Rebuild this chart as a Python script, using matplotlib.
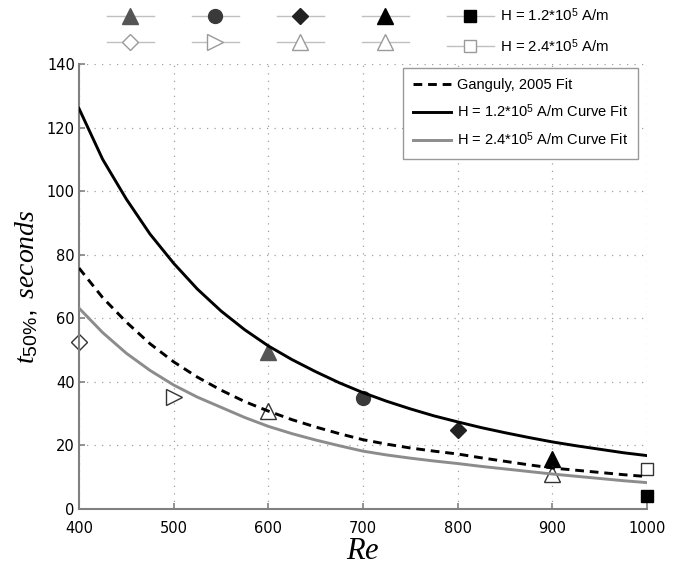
import numpy as np
import matplotlib
matplotlib.use('Agg')
import matplotlib.pyplot as plt
from matplotlib.lines import Line2D

# fonts: sans for ticks/legends, italic serif for axis titles
plt.rcParams['font.family'] = ['DejaVu Sans']
plt.rcParams['mathtext.fontset'] = 'custom'
plt.rcParams['mathtext.rm'] = 'Liberation Sans'
plt.rcParams['mathtext.it'] = 'Liberation Serif:italic'
plt.rcParams['mathtext.bf'] = 'Liberation Sans:bold'

# ---------------- data ----------------
re_fit = [400, 425, 450, 475, 500, 525, 550, 575, 600, 625, 650, 675, 700,
          725, 750, 775, 800, 825, 850, 875, 900, 925, 950, 975, 1000]
ganguly_fit = [75.8, 66.5, 58.8, 52.0, 46.3, 41.5, 37.4, 33.8, 30.8, 28.1, 25.8, 23.7, 21.8,
               20.4, 19.2, 18.2, 17.3, 16.1, 15.0, 13.9, 12.9, 12.2, 11.5, 10.8, 10.2]
fit_h12 = [126.0, 110.0, 97.5, 86.5, 77.3, 69.2, 62.3, 56.4, 51.3, 47.0, 43.2, 39.7, 36.6,
           33.9, 31.5, 29.3, 27.4, 25.6, 24.0, 22.5, 21.1, 19.9, 18.8, 17.7, 16.8]
fit_h24 = [63.2, 55.5, 49.0, 43.6, 39.0, 35.2, 32.0, 28.8, 26.0, 23.7, 21.7, 19.9, 18.2,
           17.0, 16.0, 15.1, 14.3, 13.4, 12.6, 11.8, 11.0, 10.3, 9.6, 8.9, 8.3]

re_h12 = [600, 700, 800, 900, 1000]
t_h12 = [49.5, 34.8, 24.8, 15.6, 4.2]
mk_h12 = ['^', 'o', 'D', '^', 's']
fc_h12 = ['#555555', '#3a3a3a', '#222222', '#000000', '#000000']

re_h24 = [400, 500, 600, 900, 1000]
t_h24 = [52.6, 35.3, 30.8, 10.9, 12.5]
mk_h24 = ['D', '>', '^', '^', 's']

ms_of = {'^': 11, 'o': 10, 'D': 8, 's': 9, '>': 11}

fig = plt.figure(figsize=(6.77, 5.67), dpi=100)
ax = fig.add_axes([0.1167, 0.1023, 0.8390, 0.7848])

# experimental points (under the curves)
for x, y, m, c in zip(re_h12, t_h12, mk_h12, fc_h12):
    ax.plot([x], [y], linestyle='none', marker=m, ms=ms_of[m], mfc=c, mec=c,
            zorder=2, clip_on=False)
for x, y, m in zip(re_h24, t_h24, mk_h24):
    ax.plot([x], [y], linestyle='none', marker=m, ms=ms_of[m], mfc='white',
            mec='#333333', mew=1.0, zorder=2, clip_on=False)

# fit curves
ax.plot(re_fit, ganguly_fit, color='black', lw=2.1, dashes=(3, 2),
        label='Ganguly, 2005 Fit', zorder=3)
ax.plot(re_fit, fit_h12, color='black', lw=2.1,
        label='H = 1.2*10$^{5}$ A/m Curve Fit', zorder=3)
ax.plot(re_fit, fit_h24, color='#8c8c8c', lw=2.1,
        label='H = 2.4*10$^{5}$ A/m Curve Fit', zorder=3)

ax.set_xlim(400, 1000)
ax.set_ylim(0, 140)
ax.set_xticks(np.arange(400, 1001, 100))
ax.set_yticks(np.arange(0, 141, 20))
ax.grid(True, color='#a0a0a0', linestyle=(0, (1, 5)), linewidth=0.9)

for s in ['top', 'right']:
    ax.spines[s].set_visible(False)
for s in ['left', 'bottom']:
    ax.spines[s].set_color('#808080')
    ax.spines[s].set_linewidth(1.5)
ax.tick_params(direction='in', length=4, color='#808080', width=1.2,
               labelsize=10.5, pad=3)
ax.tick_params(axis='x', pad=9)

ax.set_xlabel(r'$\mathit{Re}$', fontsize=22, labelpad=0)
ax.set_ylabel(r'$\mathit{t}_{\mathrm{50\%}}\mathit{,\ seconds}$', fontsize=20, labelpad=5)

leg = ax.legend(loc='upper right', bbox_to_anchor=(0.984, 0.991), borderaxespad=0,
                prop={'family': 'Liberation Sans', 'size': 10.5}, handlelength=2.6,
                handletextpad=0.4, labelspacing=0.7, fancybox=False,
                framealpha=1, edgecolor='#999999', borderpad=0.7)
leg.get_frame().set_linewidth(1.0)

# top legend for the experimental points (column-major order)
handles = []
labels = []
for i in range(5):
    m1 = mk_h12[i]
    handles.append(Line2D([], [], color='#c0c0c0', lw=1.0, marker=m1, ms=ms_of[m1],
                          mfc=fc_h12[i], mec=fc_h12[i]))
    m2 = mk_h24[i]
    handles.append(Line2D([], [], color='#c0c0c0', lw=1.0, marker=m2, ms=ms_of[m2],
                          mfc='white', mec='#9a9a9a', mew=1.0))
    if i < 4:
        labels += ['', '']
    else:
        labels += ['H = 1.2*10$^{5}$ A/m', 'H = 2.4*10$^{5}$ A/m']

fig.legend(handles, labels, ncol=5, loc='upper left', bbox_to_anchor=(107 / 677, 1 - 6 / 567),
           frameon=False, borderpad=0, borderaxespad=0,
           prop={'family': 'Liberation Sans', 'size': 10.8}, handlelength=3.1,
           handletextpad=0.45, columnspacing=2.12, labelspacing=0.85)

fig.savefig('out.png', dpi=100)
